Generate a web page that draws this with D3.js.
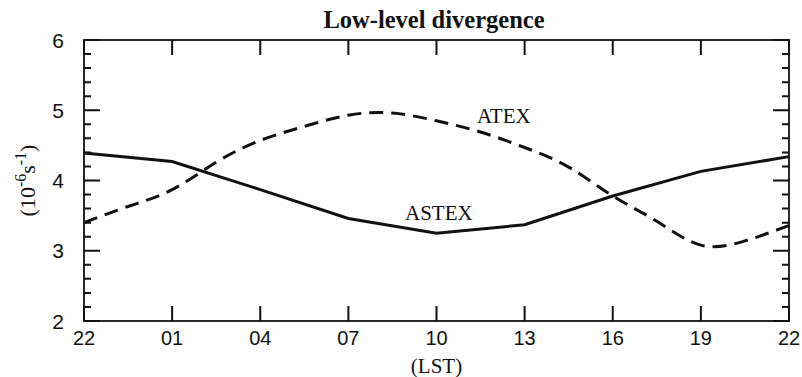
<!DOCTYPE html>
<html>
<head>
<meta charset="utf-8">
<script src="https://cdn.jsdelivr.net/npm/d3@7"></script>
<style>
  html, body { margin: 0; padding: 0; background: #fff; }
  svg { display: block; }
</style>
</head>
<body>
<div id="chart"></div>
<script>
// Diurnal cycle of low-level divergence (10^-6 s^-1), hours counted from 22 LST
const tickLabels = ["22", "01", "04", "07", "10", "13", "16", "19", "22"];
const tickHours = [0, 3, 6, 9, 12, 15, 18, 21, 24];

const astexHours = [0, 3, 6, 9, 12, 15, 18, 21, 24];
const astexValues = [4.39, 4.27, 3.87, 3.46, 3.25, 3.37, 3.78, 4.13, 4.34];

const atexHours = [0, 1.5, 3, 4.5, 6, 7.5, 9, 10.5, 12, 13.5, 15, 16.5, 18, 19.5, 21, 22.5, 24];
const atexValues = [3.40, 3.63, 3.87, 4.26, 4.57, 4.77, 4.93, 4.96, 4.85, 4.69, 4.47, 4.19, 3.78, 3.42, 3.08, 3.14, 3.36];

const yMajor = [2, 3, 4, 5, 6];

const W = 802, H = 377;
const margin = { left: 84, right: 13, top: 40, bottom: 56 };
const pL = margin.left, pR = W - margin.right, pT = margin.top, pB = H - margin.bottom;

const svg = d3.select("#chart").append("svg")
  .attr("width", W).attr("height", H);

const x = d3.scaleLinear().domain([0, 24]).range([pL, pR]);
const y = d3.scaleLinear().domain([2, 6]).range([pB, pT]);

const ink = "#111";
const sans = "'Liberation Sans', Arial, sans-serif";
const serif = "'Liberation Serif', 'Times New Roman', serif";

// Frame
svg.append("rect")
  .attr("x", pL).attr("y", pT)
  .attr("width", pR - pL).attr("height", pB - pT)
  .attr("fill", "none").attr("stroke", ink).attr("stroke-width", 1.8);

// Inward ticks: y minor every 0.2, major every 1, on both sides; x ticks top and bottom
const yMinor = d3.range(2, 6.001, 0.2).map(v => +v.toFixed(1)).filter(v => !yMajor.includes(v));
const yTicks = yMajor.map(v => ({ v: v, len: 16 })).concat(yMinor.map(v => ({ v: v, len: 7 })));

let tickPath = "";
yTicks.forEach(t => {
  const py = y(t.v);
  tickPath += `M${pL},${py}H${pL + t.len}`;
  tickPath += `M${pR},${py}H${pR - t.len}`;
});
tickHours.forEach(h => {
  const px = x(h);
  tickPath += `M${px},${pB}V${pB - 15}`;
  tickPath += `M${px},${pT}V${pT + 15}`;
});
svg.append("path")
  .attr("d", tickPath)
  .attr("fill", "none").attr("stroke", ink).attr("stroke-width", 2);

// Y tick labels
svg.append("g").selectAll("text").data(yMajor).join("text")
  .attr("x", pL - 20).attr("y", d => y(d) + 7.5)
  .attr("text-anchor", "end")
  .attr("font-family", sans).attr("font-size", 21).attr("fill", ink)
  .text(d => d);

// X tick labels
svg.append("g").selectAll("text").data(tickHours).join("text")
  .attr("x", d => x(d)).attr("y", pB + 24)
  .attr("text-anchor", "middle")
  .attr("font-family", sans).attr("font-size", 20).attr("fill", ink)
  .text((d, i) => tickLabels[i]);

// Series
const line = (hours) => d3.line().x((d, i) => x(hours[i])).y(d => y(d));

svg.append("path")
  .datum(astexValues)
  .attr("d", line(astexHours).curve(d3.curveLinear))
  .attr("fill", "none").attr("stroke", ink).attr("stroke-width", 3);

svg.append("path")
  .datum(atexValues)
  .attr("d", line(atexHours).curve(d3.curveNatural))
  .attr("fill", "none").attr("stroke", ink).attr("stroke-width", 3)
  .attr("stroke-dasharray", "14,8");

// Series labels
svg.append("text").attr("x", 477).attr("y", 123)
  .attr("font-family", serif).attr("font-size", 21).attr("fill", ink)
  .text("ATEX");
svg.append("text").attr("x", 405).attr("y", 220)
  .attr("font-family", serif).attr("font-size", 21).attr("fill", ink)
  .text("ASTEX");

// Title
svg.append("text").attr("x", 434).attr("y", 28)
  .attr("text-anchor", "middle")
  .attr("font-family", serif).attr("font-weight", "bold").attr("font-size", 24.5).attr("fill", ink)
  .text("Low-level divergence");

// X axis title
svg.append("text").attr("x", (pL + pR) / 2).attr("y", 373)
  .attr("text-anchor", "middle")
  .attr("font-family", serif).attr("font-size", 21).attr("fill", ink)
  .text("(LST)");

// Y axis title with superscripts
const yt = svg.append("text")
  .attr("transform", `translate(35,${(pT + pB) / 2}) rotate(-90)`)
  .attr("text-anchor", "middle")
  .attr("font-family", serif).attr("font-size", 22).attr("fill", ink);
yt.append("tspan").text("(10");
yt.append("tspan").attr("dy", -9).attr("font-size", 16).text("-6");
yt.append("tspan").attr("dy", 9).text("s");
yt.append("tspan").attr("dy", -9).attr("font-size", 16).text("-1");
yt.append("tspan").attr("dy", 9).text(")");
</script>
</body>
</html>
